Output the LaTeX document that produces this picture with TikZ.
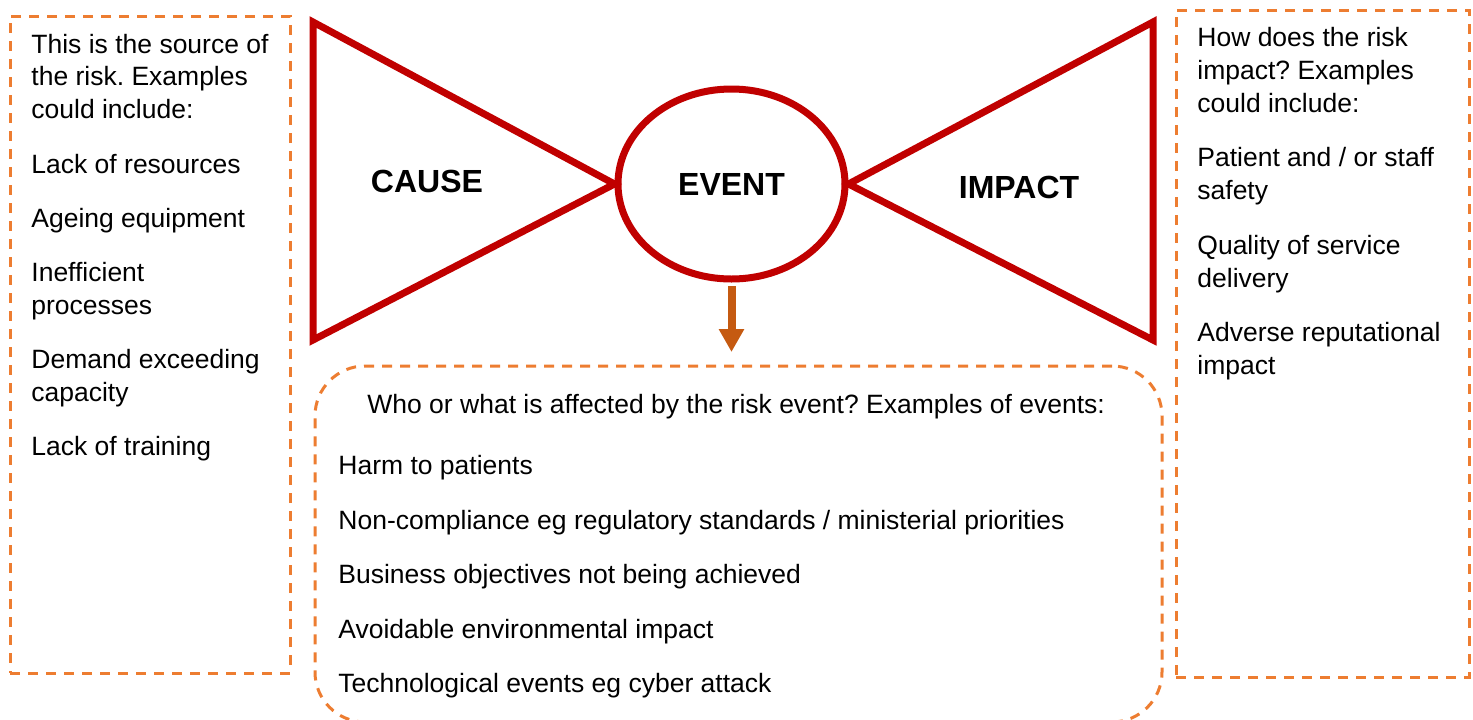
\documentclass[tikz,border=0pt]{standalone}
\usepackage{fontspec}
\setmainfont{Liberation Sans}
\frenchspacing
\usetikzlibrary{shapes.geometric,arrows.meta}

\definecolor{bowred}{RGB}{192,0,0}
\definecolor{dashorange}{RGB}{237,125,49}
\definecolor{arrowbrown}{RGB}{197,90,17}

\tikzset{
  dashbox/.style={draw=dashorange, line width=1.5pt, dash pattern=on 5pt off 4pt, inner sep=0pt},
  bow/.style={draw=bowred, line width=3.5pt, line join=miter},
  txt/.style={align=left, inner sep=0pt, font=\fontsize{13.25}{16.4}\selectfont},
  heading/.style={inner sep=0pt, font=\fontsize{16}{19}\selectfont\bfseries},
  flow/.style={draw=arrowbrown, line width=4pt, -{Triangle[width=12pt,length=11.5pt]}}
}

\begin{document}
\begin{tikzpicture}[x=0.5pt, y=-0.5pt]
\clip (0,0) rectangle (1473,719);

\node[dashbox, minimum width=140pt, minimum height=328.5pt] (causebox) at (150,344.5) {};
\node[dashbox, minimum width=146.5pt, minimum height=333.5pt] (impactbox) at (1322.5,343.5) {};
\node[dashbox, rounded corners=25pt, minimum width=423.5pt, minimum height=178pt] (affected) at (738.5,544) {};

\node[ellipse, bow, minimum width=113.5pt, minimum height=95pt, inner sep=0pt, font=\fontsize{16}{19}\selectfont\bfseries] (event) at (731.5,184) {EVENT};
\draw[bow] (event.west) -- (313,22) -- (313,340) -- cycle;
\draw[bow] (event.east) -- (1153,22) -- (1153,340) -- cycle;

\node[heading] (cause) at (427,181.5) {CAUSE};
\node[heading] (impact) at (1019,187) {IMPACT};

\draw[flow, shorten <=1.75pt, shorten >=6.25pt] (event.south) -- (event.south |- affected.north);

\node[txt, anchor=north west] (causetext) at (31,33.5)
  {This is the source of\\the risk. Examples\\could include:\\[10.75pt]
   Lack of resources\\[10.75pt]Ageing equipment\\[10.75pt]Inefficient\\processes\\[10.75pt]
   Demand exceeding\\capacity\\[10.75pt]Lack of training};

\node[txt, anchor=north west] (impacttext) at (1197,27)
  {How does the risk\\impact? Examples\\could include:\\[10.75pt]
   Patient and / or staff\\safety\\[11.25pt]Quality of service\\delivery\\[10.75pt]
   Adverse reputational\\impact};

\node[txt, anchor=north west] (affectedhead) at (367,394)
  {Who or what is affected by the risk event? Examples of events:};
\node[txt, anchor=north west] (affectedlist) at (338,455)
  {Harm to patients\\[10.85pt]
   Non-compliance eg regulatory standards / ministerial priorities\\[10.85pt]
   Business objectives not being achieved\\[10.85pt]
   Avoidable environmental impact\\[10.85pt]
   Technological events eg cyber attack};

\end{tikzpicture}
\end{document}
